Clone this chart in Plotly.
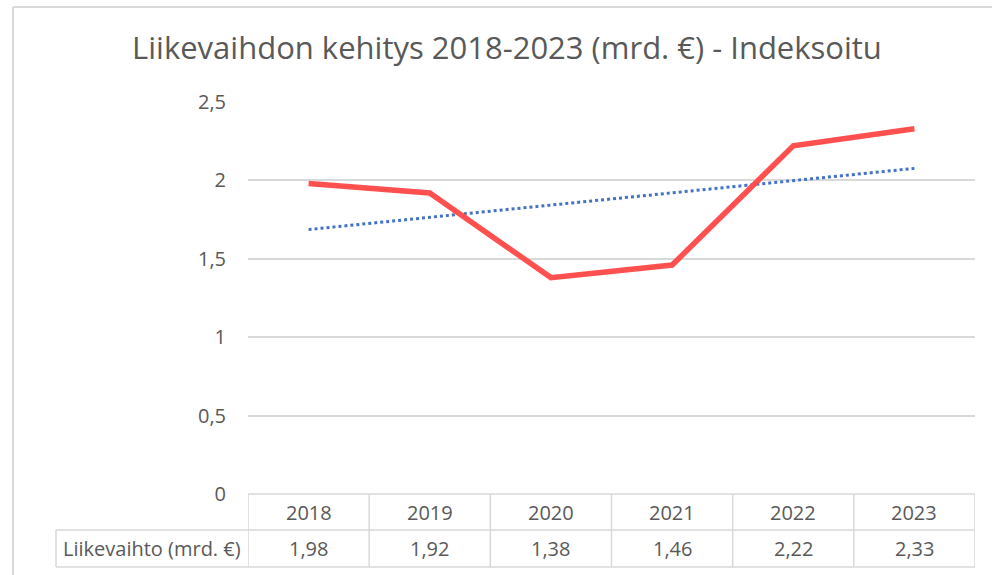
import plotly.graph_objects as go
import numpy as np

years = ["2018", "2019", "2020", "2021", "2022", "2023"]
values = [1.98, 1.92, 1.38, 1.46, 2.22, 2.33]
value_labels = ["1,98", "1,92", "1,38", "1,46", "2,22", "2,33"]
series_name = "Liikevaihto (mrd. €)"
title_text = "Liikevaihdon kehitys 2018-2023 (mrd. €) - Indeksoitu"
y_ticks = [0, 0.5, 1, 1.5, 2, 2.5]

W, H = 992, 575
L, R, T, B = 248, 975, 102, 494
FONT = "Open Sans"
TXT = "#595959"
GRID = "#d9d9d9"

def px_x(px):
    return (px - L) / (R - L)

def px_y(py):
    return (B - py) / (B - T)

xs = np.arange(len(years))
slope, intercept = np.polyfit(xs, values, 1)
trend = slope * xs + intercept

fig = go.Figure()
fig.add_trace(go.Scatter(x=xs, y=trend, mode="lines",
                         line=dict(color="#4472C4", width=3, dash="dot"),
                         hoverinfo="skip", showlegend=False))
fig.add_trace(go.Scatter(x=xs, y=values, mode="lines", name=series_name,
                         line=dict(color="#FF5050", width=5.5),
                         showlegend=False))

shapes = []
# outer frame (left and top)
shapes.append(dict(type="line", xref="paper", yref="paper",
                   x0=px_x(13), x1=px_x(13), y0=px_y(7), y1=px_y(H + 5),
                   line=dict(color=GRID, width=2)))
shapes.append(dict(type="line", xref="paper", yref="paper",
                   x0=px_x(13), x1=px_x(W + 5), y0=px_y(7), y1=px_y(7),
                   line=dict(color=GRID, width=2)))

# data table
row_top, row_mid, row_bot = px_y(B), px_y(530), px_y(567)
label_left = px_x(56)
tl = dict(color=GRID, width=1.5)
shapes.append(dict(type="line", xref="paper", yref="paper", x0=0, x1=1,
                   y0=row_top, y1=row_top, line=tl))
shapes.append(dict(type="line", xref="paper", yref="paper", x0=label_left, x1=1,
                   y0=row_mid, y1=row_mid, line=tl))
shapes.append(dict(type="line", xref="paper", yref="paper", x0=label_left, x1=1,
                   y0=row_bot, y1=row_bot, line=tl))
shapes.append(dict(type="line", xref="paper", yref="paper", x0=label_left, x1=label_left,
                   y0=row_mid, y1=row_bot, line=tl))
for i in range(len(years) + 1):
    shapes.append(dict(type="line", xref="x", yref="paper", x0=i - 0.5, x1=i - 0.5,
                       y0=row_top, y1=row_bot, line=tl))

TFONT = dict(family=FONT, size=20, color=TXT)
annotations = []
for i, (yr, vl) in enumerate(zip(years, value_labels)):
    annotations.append(dict(x=i, y=(row_top + row_mid) / 2, xref="x", yref="paper",
                            xanchor="center", yanchor="middle",
                            text=yr, showarrow=False, font=TFONT))
    annotations.append(dict(x=i, y=(row_mid + row_bot) / 2, xref="x", yref="paper",
                            xanchor="center", yanchor="middle",
                            text=vl, showarrow=False, font=TFONT))
annotations.append(dict(x=label_left / 2, y=(row_mid + row_bot) / 2,
                        xref="paper", yref="paper", xanchor="center", yanchor="middle",
                        text=series_name, showarrow=False, font=TFONT))

fig.update_layout(
    width=W, height=H, autosize=False,
    margin=dict(l=L, r=W - R, t=T, b=H - B),
    paper_bgcolor="white", plot_bgcolor="white",
    separators=", ",
    title=dict(text=title_text, x=507 / W, xanchor="center",
               y=1 - 48 / H, yanchor="middle",
               font=dict(family=FONT, size=31, color=TXT)),
    xaxis=dict(range=[-0.5, len(years) - 0.5], showgrid=False, zeroline=False,
               showticklabels=False, showline=False, fixedrange=True),
    yaxis=dict(range=[0, 2.5], tickvals=y_ticks, tickformat=".1~f",
               showgrid=True, gridcolor=GRID, gridwidth=1.5,
               zeroline=False, showline=False, ticks="",
               ticklabelstandoff=21,
               tickfont=dict(family=FONT, size=20, color=TXT), fixedrange=True),
    shapes=shapes, annotations=annotations,
    hovermode=False,
)

fig.write_html("out.html", config={"displayModeBar": False},
               post_script="document.body.style.margin='0';document.body.style.overflow='hidden';")
